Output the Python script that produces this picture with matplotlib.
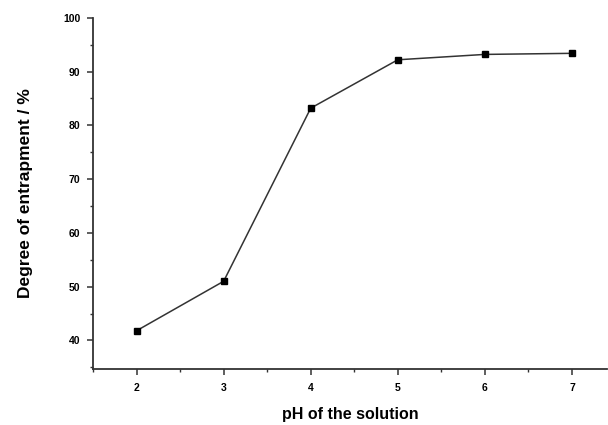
import matplotlib.pyplot as plt
from matplotlib.ticker import MultipleLocator

# pH vs degree of entrapment
ph = [2, 3, 4, 5, 6, 7]
entrapment = [41.8, 51.0, 83.2, 92.2, 93.2, 93.4]

plt.rcParams['font.family'] = ['Liberation Sans', 'DejaVu Sans']

fig = plt.figure(figsize=(6.08, 4.25), dpi=100)
ax = fig.add_axes([0.153, 0.132, 0.845, 0.826])

ax.plot(ph, entrapment, color='#333333', lw=1.1, marker='s', ms=4.5,
        mfc='black', mec='black')

ax.set_xlim(1.5, 7.4)
ax.set_ylim(34.7, 100)
ax.xaxis.set_major_locator(MultipleLocator(1))
ax.xaxis.set_minor_locator(MultipleLocator(0.5))
ax.yaxis.set_major_locator(MultipleLocator(10))
ax.yaxis.set_minor_locator(MultipleLocator(5))

for s in ['top', 'right']:
    ax.spines[s].set_visible(False)
for s in ['left', 'bottom']:
    ax.spines[s].set_linewidth(1.3)
    ax.spines[s].set_color('#333333')

ax.tick_params(which='major', direction='out', length=4, width=1.1,
               labelsize=7.5, color='#333333')
ax.tick_params(axis='x', which='major', pad=6)
ax.tick_params(axis='y', which='major', pad=5)
ax.tick_params(which='minor', direction='out', length=2.5, width=1.0,
               color='#333333')
for lab in ax.get_xticklabels() + ax.get_yticklabels():
    lab.set_fontweight('bold')

ax.set_xlabel('pH of the solution', fontsize=11.5, fontweight='bold', labelpad=10)
ax.set_ylabel('Degree of entrapment / %', fontsize=12.5, fontweight='bold', labelpad=22)

plt.savefig('out.png', dpi=100)
